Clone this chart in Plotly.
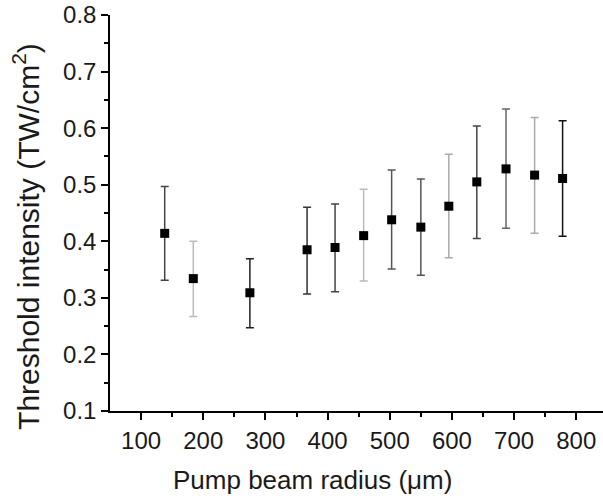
import plotly.graph_objects as go

# Data
radius_um = [138, 184, 275, 367, 412, 458, 503, 550, 595, 640, 687, 733, 778]
threshold = [0.414, 0.334, 0.309, 0.385, 0.389, 0.410, 0.438, 0.425, 0.462, 0.505, 0.528, 0.517, 0.511]
err_upper = [0.497, 0.400, 0.369, 0.460, 0.466, 0.492, 0.526, 0.510, 0.554, 0.604, 0.634, 0.619, 0.613]
err_lower = [0.331, 0.267, 0.247, 0.307, 0.311, 0.330, 0.351, 0.340, 0.371, 0.405, 0.423, 0.414, 0.409]

# error bar colours (style, separate from the data)
bar_colors = ["#444", "#bbb", "#222", "#333", "#444", "#bbb", "#555",
              "#555", "#aaa", "#444", "#666", "#aaa", "#111"]

FONT = "Liberation Sans, Arial, sans-serif"

fig = go.Figure()
for xi, yi, up, lo, col in zip(radius_um, threshold, err_upper, err_lower, bar_colors):
    fig.add_trace(go.Scatter(
        x=[xi], y=[yi], mode="markers",
        marker=dict(symbol="square", size=9, color="black"),
        error_y=dict(type="data", symmetric=False,
                     array=[up - yi], arrayminus=[yi - lo],
                     color=col, thickness=1.5, width=4),
        showlegend=False,
    ))

fig.update_layout(
    width=603, height=499,
    margin=dict(l=110, r=0, t=15, b=88),
    paper_bgcolor="white", plot_bgcolor="white",
    font=dict(family=FONT, size=24, color="#1a1a1a"),
    xaxis=dict(
        range=[50, 843], tickvals=[100, 200, 300, 400, 500, 600, 700, 800],
        ticks="outside", ticklen=7, tickwidth=1.5, tickcolor="black",
        showline=True, linecolor="black", linewidth=1.5,
        showgrid=False, zeroline=False,
        minor=dict(tickvals=[150, 250, 350, 450, 550, 650, 750],
                   ticks="outside", ticklen=4, tickwidth=1.5, tickcolor="black"),
        tickfont=dict(size=24),
    ),
    yaxis=dict(
        range=[0.1, 0.8], tickvals=[0.1, 0.2, 0.3, 0.4, 0.5, 0.6, 0.7, 0.8],
        tickformat=".1f",
        ticks="outside", ticklen=7, tickwidth=1.5, tickcolor="black",
        showline=True, linecolor="black", linewidth=1.5,
        showgrid=False, zeroline=False,
        minor=dict(tickvals=[0.15, 0.25, 0.35, 0.45, 0.55, 0.65, 0.75],
                   ticks="outside", ticklen=4, tickwidth=1.5, tickcolor="black"),
        tickfont=dict(size=24),
    ),
    annotations=[
        dict(text="Pump beam radius (\u03bcm)", xref="paper", yref="paper",
             x=0.41, y=-0.173, xanchor="center", yanchor="middle",
             showarrow=False, font=dict(size=26, family=FONT, color="#1a1a1a")),
        dict(text="Threshold intensity (TW/cm<sup>2</sup>)", xref="paper", yref="paper",
             x=-0.17, y=0.44, xanchor="center", yanchor="middle", textangle=-90,
             showarrow=False, font=dict(size=30, family=FONT, color="#1a1a1a")),
    ],
)

fig.write_html(
    "out.html",
    config={"displayModeBar": False},
    post_script="document.body.style.margin='0';document.body.style.overflow='hidden';",
)
